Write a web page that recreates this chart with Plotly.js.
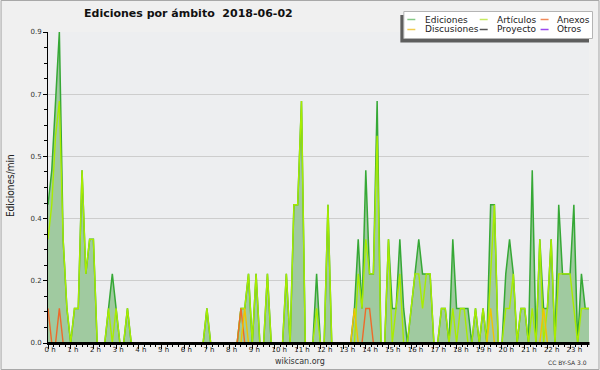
<!DOCTYPE html>
<html><head><meta charset="utf-8">
<script src="https://cdn.plot.ly/plotly-3.0.1.min.js"></script>
<style>html,body{margin:0;padding:0;background:#f0f0f0}</style>
</head><body>
<div id="chart" style="width:600px;height:370px"></div>
<script>
// 10-minute bins, 144 per day (values = ediciones/min)
const hourLabels = ["0 h","1 h","2 h","3 h","4 h","5 h","6 h","7 h","8 h","9 h","10 h","11 h",
  "12 h","13 h","14 h","15 h","16 h","17 h","18 h","19 h","20 h","21 h","22 h","23 h"];
const yTickValues = [0, 0.18, 0.36, 0.54, 0.72, 0.9];
const yTickLabels = ["0.0","0.2","0.4","0.5","0.7","0.9"];

const ediciones = [
  0.4,0.5,0.7,0.9,0.3,0.1,   0,0.1,0.1,0.5,0.2,0.3,   0.3,0,0,0,0.1,0.2,   0.1,0,0,0.1,0,0,
  0,0,0,0,0,0,               0,0,0,0,0,0,             0,0,0,0,0,0,         0.1,0,0,0,0,0,
  0,0,0,0.1,0.1,0.2,         0,0.2,0,0,0.2,0,         0,0,0,0.2,0,0.4,     0.4,0.7,0,0,0,0.2,
  0,0,0.4,0,0,0,             0,0,0,0.1,0.3,0.1,       0.5,0.2,0.2,0.7,0,0, 0.3,0.1,0.1,0.3,0.1,0,
  0.1,0.2,0.3,0.2,0.2,0.2,   0,0,0.1,0.1,0,0.3,       0.1,0.1,0.1,0.1,0,0.1, 0,0.1,0,0.4,0.4,0,
  0,0.2,0.3,0.2,0,0.1,       0.1,0,0.5,0,0.3,0.1,     0.1,0.3,0,0.4,0.2,0.2, 0.2,0.4,0,0.2,0.1,0.1
];
const articulos = [
  0.3,0.4,0.6,0.7,0.3,0.1,   0,0.1,0.1,0.5,0.2,0.3,   0.3,0,0,0,0.1,0,     0.1,0,0,0.1,0,0,
  0,0,0,0,0,0,               0,0,0,0,0,0,             0,0,0,0,0,0,         0.1,0,0,0,0,0,
  0,0,0,0.1,0.1,0.2,         0,0.2,0,0,0.2,0,         0,0,0,0.2,0,0.4,     0.4,0.7,0,0,0,0.1,
  0,0,0.4,0,0,0,             0,0,0,0,0.2,0.1,         0.3,0.2,0.2,0.6,0,0, 0.3,0,0.1,0.2,0,0,
  0.1,0.2,0.2,0.1,0.2,0.2,   0,0,0.1,0.1,0,0.1,       0,0.1,0.1,0,0,0.1,   0,0.1,0,0.2,0.4,0,
  0,0.1,0.1,0.2,0,0.1,       0.1,0,0.1,0,0.3,0,       0.1,0.3,0,0.2,0.2,0.2, 0.2,0.1,0,0.1,0.1,0.1
];
const anexos = [
  0.1,0,0,0.1,0,0,  0,0,0,0,0,0,  0,0,0,0,0,0,  0,0,0,0,0,0,
  0,0,0,0,0,0,      0,0,0,0,0,0,  0,0,0,0,0,0,  0,0,0,0,0,0,
  0,0,0,0.1,0,0,    0,0,0,0,0,0,  0,0,0,0,0,0,  0,0,0,0,0,0,
  0,0,0,0,0,0,      0,0,0,0,0,0,  0.1,0.1,0,0,0,0, 0,0,0,0,0,0,
  0,0,0,0,0,0,      0,0,0,0,0,0,  0,0,0,0,0,0,  0,0,0,0,0,0,
  0,0,0,0,0,0,      0,0,0,0,0,0,  0,0,0,0,0,0,  0,0,0,0,0,0
];
const discusiones = [
  0,0,0,0,0,0,      0,0,0,0,0,0,  0,0,0,0,0,0,  0,0,0,0,0,0,
  0,0,0,0,0,0,      0,0,0,0,0,0,  0,0,0,0,0,0,  0,0,0,0,0,0,
  0,0,0,0,0.1,0,    0,0,0,0,0,0,  0,0,0,0,0,0,  0,0,0,0,0,0,
  0,0,0,0,0,0,      0,0,0,0.1,0,0, 0,0,0,0,0,0, 0,0,0,0,0,0,
  0,0,0,0,0,0,      0,0,0,0,0,0,  0,0,0,0,0,0,  0,0,0,0.1,0,0,
  0,0,0,0,0,0,      0,0,0,0,0,0.1, 0,0,0,0,0,0, 0,0,0,0,0,0
];
const proyecto = new Array(144).fill(0);
const otros = new Array(144).fill(0);

const seriesNames = ["Ediciones","Artículos","Anexos","Discusiones","Proyecto","Otros"];
const lineColors = ["#36a836","#a8ec00","#ee6a2a","#f0c400","#555555","#9a3cf0"];
const swatchColors = ["#86c986","#c6ea60","#f08a5a","#f0cc50","#555555","#9a48ee"];

const slots = ediciones.map((_, i) => i);
const seriesData = [ediciones, articulos, anexos, discusiones, proyecto, otros];

const traces = [];
// all-zero series first so that they sit beneath everything else
for (let k = seriesData.length - 1; k >= 4; k--) {
  traces.push({x: slots, y: seriesData[k], type: 'scatter', mode: 'lines', name: seriesNames[k],
    line: {color: lineColors[k], width: 1}, hoverinfo: 'skip'});
}
traces.push({x: slots, y: ediciones, type: 'scatter', mode: 'lines', name: seriesNames[0],
  line: {color: lineColors[0], width: 1.5}, fill: 'tozeroy', fillcolor: '#a0caa0', hoverinfo: 'skip'});
for (let k = 1; k < 4; k++) {
  traces.push({x: slots, y: seriesData[k], type: 'scatter', mode: 'lines', name: seriesNames[k],
    line: {color: lineColors[k], width: 1.4}, hoverinfo: 'skip'});
}

// pixel -> paper helpers (plot area: x 47.5..589.5, y 32..343)
const L = 47.5, R = 589.5, T = 32, B = 343;
const PX = x => (x - L) / (R - L);
const PY = y => (B - y) / (B - T);

const shapes = [
  {type:'rect', xref:'paper', yref:'paper', x0:PX(0.5), x1:PX(599.5), y0:PY(369.5), y1:PY(0.5),
   line:{color:'#a8a8a8', width:1}, fillcolor:'rgba(0,0,0,0)', layer:'below'},
  // x axis baseline drawn on top of the traces
  {type:'line', xref:'paper', yref:'paper', x0:PX(46.5), x1:PX(590), y0:PY(343.4), y1:PY(343.4),
   line:{color:'#000', width:3}, layer:'above'},
  {type:'rect', xref:'paper', yref:'paper', x0:PX(400.5), x1:PX(589.5), y0:PY(42.5), y1:PY(15),
   line:{width:0}, fillcolor:'#5e5e5e'},
  {type:'rect', xref:'paper', yref:'paper', x0:PX(404), x1:PX(593), y0:PY(38.5), y1:PY(11.5),
   line:{color:'#b4b4b4', width:1}, fillcolor:'#ffffff'}
];
const annotations = [
  {text:'Ediciones por ámbito\u00a0\u00a02018-06-02', xref:'paper', yref:'paper', x:PX(188.5), y:PY(14),
   xanchor:'center', yanchor:'middle', showarrow:false,
   font:{family:'DejaVu Sans', size:11, color:'#111', weight:'bold'}},
  {text:'Ediciones/min', xref:'paper', yref:'paper', x:PX(9.5), y:PY(186), textangle:-90,
   xanchor:'center', yanchor:'middle', showarrow:false,
   font:{family:'DejaVu Sans Condensed, DejaVu Sans', size:10, color:'#222'}},
  {text:'wikiscan.org', xref:'paper', yref:'paper', x:PX(300), y:PY(361.5),
   xanchor:'center', yanchor:'middle', showarrow:false,
   font:{family:'DejaVu Sans', size:8, color:'#333'}},
  {text:'CC BY-SA 3.0', xref:'paper', yref:'paper', x:PX(589), y:PY(362.5),
   xanchor:'right', yanchor:'middle', showarrow:false,
   font:{family:'DejaVu Sans', size:6, color:'#333'}}
];
// legend (3 columns x 2 rows)
const colSwatchX = [407.5, 480, 541];
const colTextX = [423.5, 495.5, 555.5];
const rowY = [19.5, 29.5];
seriesNames.forEach((name, k) => {
  const col = k % 3, row = Math.floor(k / 3);
  shapes.push({type:'line', xref:'paper', yref:'paper', x0:PX(colSwatchX[col]), x1:PX(colSwatchX[col] + 8),
    y0:PY(rowY[row]), y1:PY(rowY[row]), line:{color:swatchColors[k], width:1.5}});
  annotations.push({text:name, xref:'paper', yref:'paper', x:PX(colTextX[col]), y:PY(rowY[row]),
    xanchor:'left', yanchor:'middle', showarrow:false,
    font:{family:'DejaVu Sans', size:9, color:'#222'}});
});

const layout = {
  width: 600, height: 370,
  margin: {l: L, r: 600 - R, t: T, b: 370 - B, pad: 0},
  paper_bgcolor: '#f0f0f0', plot_bgcolor: '#edeef0',
  showlegend: false,
  xaxis: {
    range: [0, 143], tickmode: 'array',
    tickvals: hourLabels.map((_, h) => h * 6), ticktext: hourLabels,
    tickangle: 0,
    ticks: 'outside', ticklen: 5, tickwidth: 1, tickcolor: '#000',
    ticklabelposition: 'outside right', ticklabelshift: -4,
    showline: false,
    showgrid: false, zeroline: false, fixedrange: true,
    tickfont: {family: 'DejaVu Sans', size: 7, color: '#222'},
    minor: {tickmode: 'linear', tick0: 0, dtick: 1.5, ticks: 'outside', ticklen: 3, tickcolor: '#000', showgrid: false}
  },
  yaxis: {
    range: [0, 0.9], tickmode: 'array', tickvals: yTickValues, ticktext: yTickLabels,
    ticks: 'outside', ticklen: 4, tickcolor: '#000',
    showline: true, linecolor: '#000', linewidth: 1,
    showgrid: true, gridcolor: '#cdcdcd', gridwidth: 1, zeroline: false, fixedrange: true,
    tickfont: {family: 'DejaVu Sans', size: 7, color: '#333'},
    minor: {tickmode: 'linear', tick0: 0, dtick: 0.045, ticks: 'outside', ticklen: 3, tickcolor: '#000', showgrid: false}
  },
  shapes: shapes,
  annotations: annotations
};

Plotly.newPlot('chart', traces, layout, {displayModeBar: false, staticPlot: true});
</script>
</body></html>
